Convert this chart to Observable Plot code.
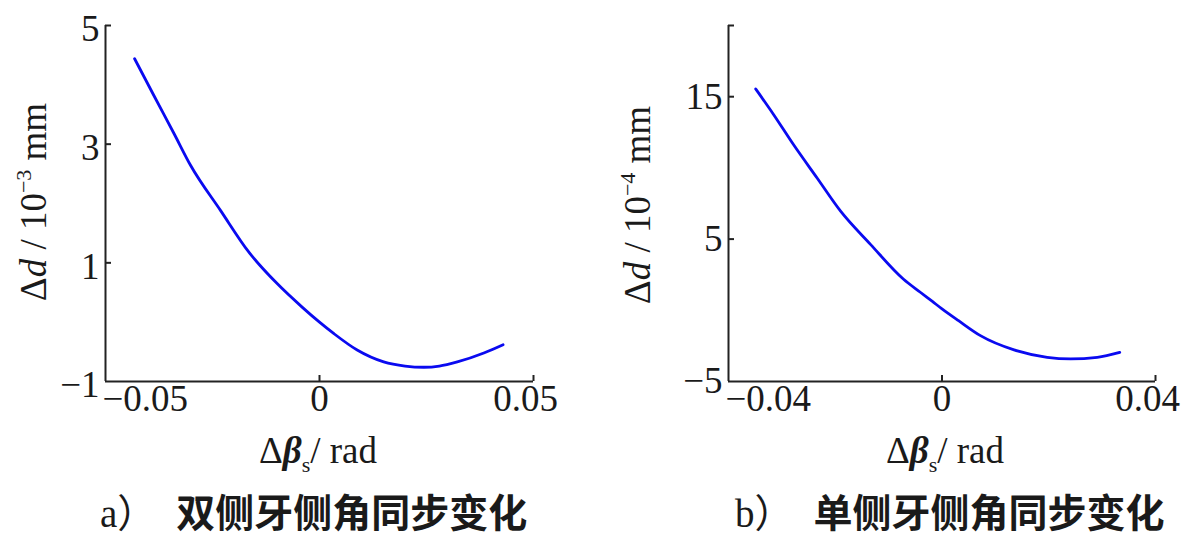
<!DOCTYPE html>
<html><head><meta charset="utf-8">
<script src="https://cdn.jsdelivr.net/npm/d3@7"></script>
<script src="https://cdn.jsdelivr.net/npm/@observablehq/plot@0.6"></script>
<style>
html,body{margin:0;padding:0;background:#fff;}
#wrap{display:flex;width:1200px;}
.panel{width:600px;}
.cap{font-family:"Liberation Serif","Noto Sans CJK SC",serif;font-size:39px;line-height:50px;height:62px;white-space:nowrap;color:#1a1a1a;}
.cap .zh{font-family:"Noto Sans CJK SC",sans-serif;font-weight:700;margin-left:20px;}
</style></head><body>
<div id="wrap">
  <div class="panel"><div id="pa"></div><div class="cap" style="padding-left:100px">a）<span class="zh">双侧牙侧角同步变化</span></div></div>
  <div class="panel"><div id="pb"></div><div class="cap" style="padding-left:135px">b）<span class="zh">单侧牙侧角同步变化</span></div></div>
</div>
<script>
// ---- Panel a: 双侧牙侧角同步变化 (Δd in 10^-3 mm) ----
const xA = [-0.0432, -0.0387, -0.0340, -0.0301, -0.0231, -0.0165, -0.0099, -0.0040, 0.0000, 0.0033, 0.0088, 0.0150, 0.0200, 0.0244, 0.0280, 0.0322, 0.0384, 0.0429];
const yA = [4.44, 3.82, 3.18, 2.64, 1.88, 1.18, 0.65, 0.25, 0.00, -0.19, -0.47, -0.67, -0.74, -0.76, -0.74, -0.67, -0.52, -0.38];
const xDomainA = [-0.05, 0.05];
const yDomainA = [-1, 5];
const xTicksA = [-0.05, 0, 0.05];
const yTicksA = [-1, 1, 3, 5];
const yTickMarksA = [1, 3, 5];

// ---- Panel b: 单侧牙侧角同步变化 (Δd in 10^-4 mm) ----
const xB = [-0.0349, -0.0315, -0.0278, -0.0234, -0.0190, -0.0134, -0.0072, -0.0040, -0.0018, 0.0000, 0.0031, 0.0072, 0.0135, 0.0197, 0.0241, 0.0291, 0.0333];
const yB = [15.54, 13.72, 11.62, 9.29, 6.96, 4.63, 2.18, 1.25, 0.62, 0.10, -0.73, -1.78, -2.78, -3.30, -3.41, -3.30, -2.95];
const xDomainB = [-0.04, 0.04];
const yDomainB = [-5, 20];
const xTicksB = [-0.04, 0, 0.04];
const yTicksB = [-5, 5, 15];
const yTickMarksB = [5, 15, 20];

const fmt = d => d === 0 ? "0" : String(d).replace("-", "\u2212");

function panel({xs, ys, xDomain, yDomain, xTicks, yTicks, yMarks, marginLeft, marginRight, yLabelDy}) {
  const W = 600, H = 485, mt = 25, mb = 104;
  const fw = W - marginLeft - marginRight, fh = H - mt - mb;
  const data = xs.map((x, i) => ({x, y: ys[i]}));
  const ax = "#222";
  return Plot.plot({
    width: W, height: H, marginLeft, marginRight, marginTop: mt, marginBottom: mb,
    x: {domain: xDomain, label: null},
    y: {domain: yDomain, label: null},
    style: {fontFamily: "'Liberation Serif', serif", fontSize: "37px", color: "#1a1a1a", background: "#fff", overflow: "visible"},
    marks: [
      Plot.ruleY([yDomain[0]], {stroke: ax, strokeWidth: 2}),
      Plot.ruleX([xDomain[0]], {stroke: ax, strokeWidth: 2}),
      Plot.tickX(xTicks.slice(1), {x: d => d, stroke: ax, strokeWidth: 2, insetTop: fh - 6}),
      Plot.tickY(yMarks, {y: d => d, stroke: ax, strokeWidth: 2, insetRight: fw - 6}),
      Plot.axisY({ticks: yTicks, label: null, tickSize: 0, tickPadding: 6, tickFormat: fmt, dy: yLabelDy, fill: "#1a1a1a"}),
      Plot.axisX({ticks: [xTicks[0]], label: null, tickSize: 0, tickPadding: 3, tickFormat: fmt, textAnchor: "start", dx: -3, fill: "#1a1a1a"}),
      Plot.axisX({ticks: [xTicks[1]], label: null, tickSize: 0, tickPadding: 3, tickFormat: fmt, fill: "#1a1a1a"}),
      Plot.axisX({ticks: [xTicks[2]], label: null, tickSize: 0, tickPadding: 3, tickFormat: fmt, dx: -8, fill: "#1a1a1a"}),
      Plot.line(data, {x: "x", y: "y", stroke: "#0a0af0", strokeWidth: 2.8, curve: "monotone-x"})
    ]
  });
}

function addTitles(svg, {xTitleX, yTitleX, yTitleY, exp}) {
  const s = d3.select(svg);
  const font = "'Liberation Serif', serif";
  const xt = s.append("text").attr("x", xTitleX).attr("y", 463)
    .attr("text-anchor", "middle").attr("font-family", font).attr("font-size", 37).attr("fill", "#1a1a1a");
  xt.append("tspan").text("Δ");
  xt.append("tspan").attr("font-style", "italic").attr("font-weight", "bold").text("β");
  xt.append("tspan").attr("font-size", 22).attr("dy", 9).text("s");
  xt.append("tspan").attr("dy", -9).text("/ rad");

  const yt = s.append("text").attr("transform", `translate(${yTitleX},${yTitleY}) rotate(-90)`)
    .attr("text-anchor", "middle").attr("font-family", font).attr("font-size", 37).attr("fill", "#1a1a1a");
  yt.append("tspan").text("Δ");
  yt.append("tspan").attr("font-style", "italic").text("d");
  yt.append("tspan").text(" / 10");
  yt.append("tspan").attr("font-size", 22).attr("dy", -15).text(exp);
  yt.append("tspan").attr("dy", 15).text(" mm");
}

const a = panel({xs: xA, ys: yA, xDomain: xDomainA, yDomain: yDomainA, xTicks: xTicksA, yTicks: yTicksA, yMarks: yTickMarksA, marginLeft: 105, marginRight: 67, yLabelDy: 4});
addTitles(a, {xTitleX: 318, yTitleX: 46, yTitleY: 202, exp: "\u22123"});
document.getElementById("pa").appendChild(a);

const b = panel({xs: xB, ys: yB, xDomain: xDomainB, yDomain: yDomainB, xTicks: xTicksB, yTicks: yTicksB, yMarks: yTickMarksB, marginLeft: 128, marginRight: 45, yLabelDy: 0});
addTitles(b, {xTitleX: 345, yTitleX: 50, yTitleY: 205, exp: "\u22124"});
document.getElementById("pb").appendChild(b);
</script>
</body></html>
